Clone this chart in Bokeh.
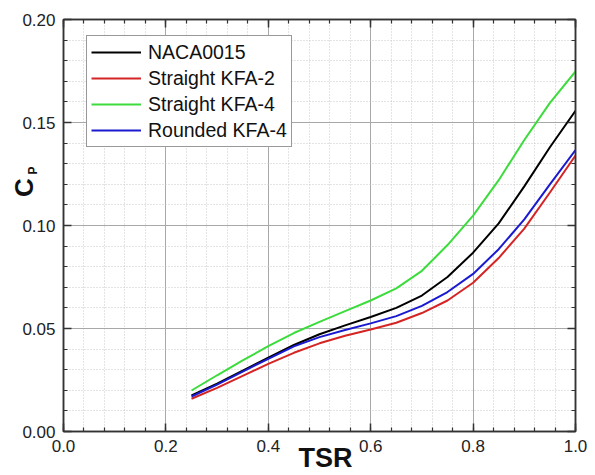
import math
from bokeh.plotting import figure
from bokeh.models import (Legend, LegendItem, LinearAxis, SingleIntervalTicker, NumeralTickFormatter,
                          CustomJSTickFormatter, Range1d)
from bokeh.core.properties import value
from bokeh.embed import file_html
from bokeh.resources import INLINE

tsr = [0.25, 0.30, 0.35, 0.40, 0.45, 0.50, 0.55, 0.60, 0.65, 0.70, 0.75, 0.80, 0.85, 0.90, 0.95, 1.00]
naca0015 = [0.0175, 0.0232, 0.0296, 0.0358, 0.0420, 0.0472, 0.0515, 0.0556, 0.0600, 0.0660, 0.0750, 0.0868, 0.1010, 0.1190, 0.1380, 0.1557]
straight_kfa2 = [0.0159, 0.0212, 0.0270, 0.0328, 0.0382, 0.0428, 0.0465, 0.0495, 0.0528, 0.0575, 0.0636, 0.0722, 0.0842, 0.0985, 0.1160, 0.1340]
straight_kfa4 = [0.0199, 0.0273, 0.0345, 0.0414, 0.0478, 0.0532, 0.0584, 0.0636, 0.0695, 0.0780, 0.0905, 0.1048, 0.1220, 0.1415, 0.1595, 0.1748]
rounded_kfa4 = [0.0170, 0.0228, 0.0291, 0.0353, 0.0413, 0.0458, 0.0493, 0.0525, 0.0560, 0.0610, 0.0677, 0.0765, 0.0885, 0.1030, 0.1200, 0.1366]

series_names = ["NACA0015", "Straight KFA-2", "Straight KFA-4", "Rounded KFA-4"]
series_values = [naca0015, straight_kfa2, straight_kfa4, rounded_kfa4]
series_colors = ["#000000", "#d42424", "#3ddc3d", "#1a1ad0"]

FONT = "Liberation Sans"

p = figure(width=595, height=475, output_backend="svg", toolbar_location=None,
           x_range=Range1d(0.0, 1.0), y_range=Range1d(0.0, 0.20),
           min_border_left=63, min_border_right=20, min_border_top=19, min_border_bottom=44,
           background_fill_color="white", border_fill_color="white")

xt = SingleIntervalTicker(interval=0.2, num_minor_ticks=5)
yt = SingleIntervalTicker(interval=0.05, num_minor_ticks=5)

def style_axis(ax):
    ax.axis_line_color = "#333333"
    ax.axis_line_width = 1.5
    ax.major_tick_in = 8
    ax.major_tick_out = 0
    ax.minor_tick_in = 4
    ax.minor_tick_out = 0
    ax.major_tick_line_color = "#333333"
    ax.minor_tick_line_color = "#333333"
    ax.major_tick_line_width = 1.5
    ax.minor_tick_line_width = 1.2
    ax.major_label_text_font = FONT
    ax.major_label_text_font_size = "17px"
    ax.major_label_text_color = "#222222"
    ax.major_label_standoff = 8

p.xaxis.ticker = xt
p.yaxis.ticker = yt
p.xaxis.formatter = NumeralTickFormatter(format="0.0")
p.yaxis.formatter = NumeralTickFormatter(format="0.00")
for ax in p.xaxis + p.yaxis:
    style_axis(ax)

blank = CustomJSTickFormatter(code="return '';")
top = LinearAxis(ticker=xt, formatter=blank)
right = LinearAxis(ticker=yt, formatter=blank)
style_axis(top)
style_axis(right)
p.add_layout(top, "above")
p.add_layout(right, "right")

for g in (p.xgrid, p.ygrid):
    g.grid_line_color = "#a8a8a8"
    g.grid_line_width = 1
    g.minor_grid_line_color = "#c8c8c8"
    g.minor_grid_line_dash = "1 2"
    g.minor_grid_line_width = 1
p.xgrid.ticker = xt
p.ygrid.ticker = yt

p.outline_line_color = "#333333"
p.outline_line_width = 1.5

items = []
for name, vals, col in zip(series_names, series_values, series_colors):
    r = p.line(tsr, vals, line_color=col, line_width=2)
    items.append(LegendItem(label=name, renderers=[r]))

legend = Legend(items=items, location=(23, 284), orientation="vertical")
legend.label_text_font = FONT
legend.label_text_font_size = "19.5px"
legend.label_text_color = "#111111"
legend.glyph_width = 50
legend.glyph_height = 24
legend.label_height = 24
legend.label_standoff = 7
legend.spacing = 2
legend.padding = 4
legend.margin = 0
legend.border_line_color = "#333333"
legend.border_line_width = 1
legend.background_fill_color = "white"
legend.background_fill_alpha = 1.0
p.add_layout(legend, "center")

# axis titles drawn as overlay-level text (not clipped to the frame)
p.text(x=[0.5117], y=[-0.0131], text=["TSR"], level="overlay",
       text_font=value(FONT), text_font_size=value("27px"), text_font_style="bold",
       text_align="center", text_baseline="middle", text_color="#111111")
p.text(x=[-0.0762], y=[0.1184], text=["C"], angle=math.pi / 2, level="overlay",
       text_font=value(FONT), text_font_size=value("26px"), text_font_style="bold",
       text_align="center", text_baseline="middle", text_color="#111111")
p.text(x=[-0.0592], y=[0.1267], text=["P"], angle=math.pi / 2, level="overlay",
       text_font=value(FONT), text_font_size=value("12px"), text_font_style="bold",
       text_align="center", text_baseline="middle", text_color="#111111")

open("out.html", "w").write(file_html(p, INLINE))
